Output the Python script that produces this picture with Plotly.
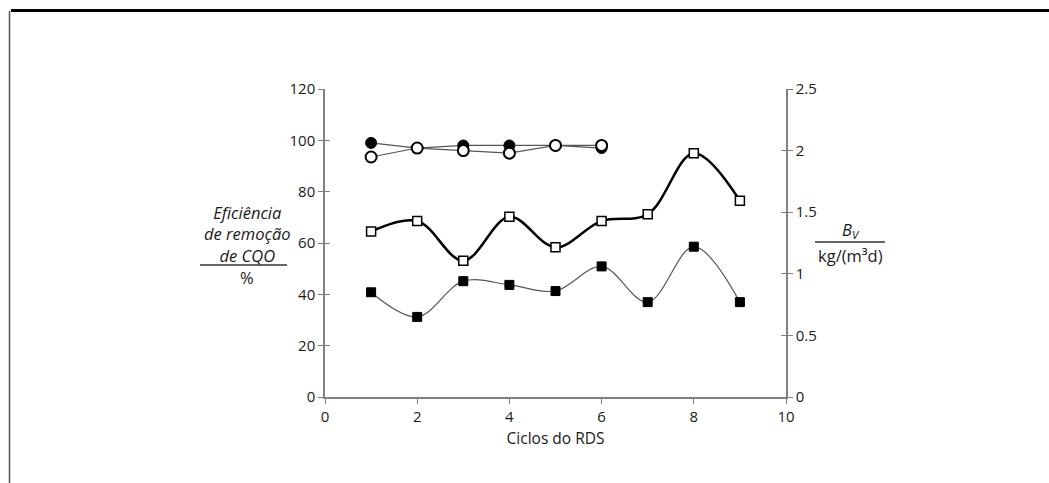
import plotly.graph_objects as go

# ---- data ----
ciclos = [1, 2, 3, 4, 5, 6, 7, 8, 9]
ciclos_circ = [1, 2, 3, 4, 5, 6]
efic_cheio = [99, 97, 98, 98, 98, 97]          # filled circles (%)
efic_vazio = [93.5, 97, 96, 95, 98, 98]        # open circles (%)
efic_quad = [64.5, 68.6, 53.1, 70.2, 58.3, 68.6, 71.2, 95, 76.5]   # open squares (%)
bv = [0.85, 0.65, 0.94, 0.91, 0.86, 1.06, 0.77, 1.22, 0.77]        # filled squares kg/(m3 d)

x_ticks = [0, 2, 4, 6, 8, 10]
yl_ticks = [0, 20, 40, 60, 80, 100, 120]
yr_ticks = [0, 0.5, 1, 1.5, 2, 2.5]
yr_labels = ["0", "0.5", "1", "1.5", "2", "2.5"]

FONT = "Open Sans"
AX = "#808080"
TXT = "#1a1a1a"
W = 500

fig = go.Figure()

# filled squares (Bv, right axis), thin spline
fig.add_trace(go.Scatter(x=ciclos, y=bv, yaxis="y2", mode="lines+markers",
                         line=dict(color="#555555", width=1.2, shape="spline", smoothing=1),
                         marker=dict(symbol="square", size=9, color="black",
                                     line=dict(color="black", width=1)),
                         showlegend=False))
# open squares, thick spline
fig.add_trace(go.Scatter(x=ciclos, y=efic_quad, mode="lines+markers",
                         line=dict(color="black", width=2.5, shape="spline", smoothing=1),
                         marker=dict(symbol="square", size=9, color="white",
                                     line=dict(color="black", width=1.5)),
                         showlegend=False))
# filled circles
fig.add_trace(go.Scatter(x=ciclos_circ, y=efic_cheio, mode="lines+markers",
                         line=dict(color="#555555", width=1.2),
                         marker=dict(symbol="circle", size=11, color="black",
                                     line=dict(color="black", width=1)),
                         showlegend=False))
# open circles
fig.add_trace(go.Scatter(x=ciclos_circ, y=efic_vazio, mode="lines+markers",
                         line=dict(color="#555555", width=1.2),
                         marker=dict(symbol="circle", size=11, color="white",
                                     line=dict(color="black", width=2)),
                         showlegend=False))

# invisible traces for tick-overlay axes
fig.add_trace(go.Scatter(x=[None], y=[None], yaxis="y3", showlegend=False, hoverinfo="skip"))
fig.add_trace(go.Scatter(x=[None], y=[None], yaxis="y4", showlegend=False, hoverinfo="skip"))

xd = [325 / 1049, 786 / 1049]
yd = [(483 - 397) / 483, (483 - 89) / 483]

tickfont = dict(family=FONT, size=15, color=TXT, weight=W)

fig.update_layout(
    width=1049, height=483,
    margin=dict(l=0, r=0, t=0, b=0, autoexpand=False),
    paper_bgcolor="white", plot_bgcolor="white",
    hovermode=False,
    xaxis=dict(domain=xd, range=[0, 10], tickvals=x_ticks, showgrid=False, zeroline=False,
               showline=True, linecolor=AX, linewidth=1.5, ticks="outside", ticklen=5,
               tickcolor=AX, tickfont=tickfont, automargin=False,
               title=dict(text="Ciclos do RDS",
                          font=dict(family=FONT, size=15.5, color=TXT, weight=W),
                          standoff=8)),
    yaxis=dict(domain=yd, range=[0, 120], tickvals=yl_ticks, showgrid=False, zeroline=False,
               showline=True, linecolor=AX, linewidth=1.5, ticks="outside", ticklen=5,
               tickcolor=AX, tickfont=tickfont, anchor="x", automargin=False),
    yaxis2=dict(domain=yd, range=[0, 2.5], tickvals=yr_ticks, ticktext=yr_labels,
                overlaying="y", side="right", showgrid=False, zeroline=False,
                showline=True, linecolor=AX, linewidth=1.5, ticks="outside", ticklen=5,
                tickcolor=AX, tickfont=tickfont, anchor="x", automargin=False),
    yaxis3=dict(domain=yd, range=[0, 120], tickvals=yl_ticks, overlaying="y", side="left",
                showgrid=False, zeroline=False, showline=False, ticks="inside", ticklen=5,
                tickcolor=AX, showticklabels=False, anchor="x", automargin=False),
    yaxis4=dict(domain=yd, range=[0, 2.5], tickvals=yr_ticks, overlaying="y", side="right",
                showgrid=False, zeroline=False, showline=False, ticks="inside", ticklen=5,
                tickcolor=AX, showticklabels=False, anchor="x", automargin=False),
)

def px(x):
    return x / 1049

def py(y):
    return 1 - y / 483

labfont = dict(family=FONT, size=16.5, color=TXT, weight=W)
ann = [
    ("<i>Eficiência</i><br><i>de remoção</i><br><i>de CQO</i>", 247, 234),
    ("%", 247, 277),
    ("<i>B</i><sub><i>V</i></sub>", 851, 230),
    ("kg/(m³d)", 850, 255),
]
for t, x, y in ann:
    fig.add_annotation(text=t, x=px(x), y=py(y), xref="paper", yref="paper",
                       showarrow=False, font=labfont, xanchor="center", yanchor="middle",
                       align="center")

shapes = [
    # fraction bars
    dict(type="line", xref="paper", yref="paper", x0=px(200), x1=px(287), y0=py(265), y1=py(265),
         line=dict(color="#333333", width=1.5)),
    dict(type="line", xref="paper", yref="paper", x0=px(815), x1=px(885), y0=py(242), y1=py(242),
         line=dict(color="#333333", width=1.5)),
    # frame
    dict(type="line", xref="paper", yref="paper", x0=px(11), x1=1, y0=py(10.5), y1=py(10.5),
         line=dict(color="black", width=3)),
    dict(type="line", xref="paper", yref="paper", x0=px(9.5), x1=px(9.5), y0=py(11), y1=0,
         line=dict(color="#555555", width=1.5)),
]
fig.update_layout(shapes=shapes)

fig.write_html("out.html", config={"displayModeBar": False},
               post_script="document.body.style.margin='0';document.body.style.overflow='hidden';")
